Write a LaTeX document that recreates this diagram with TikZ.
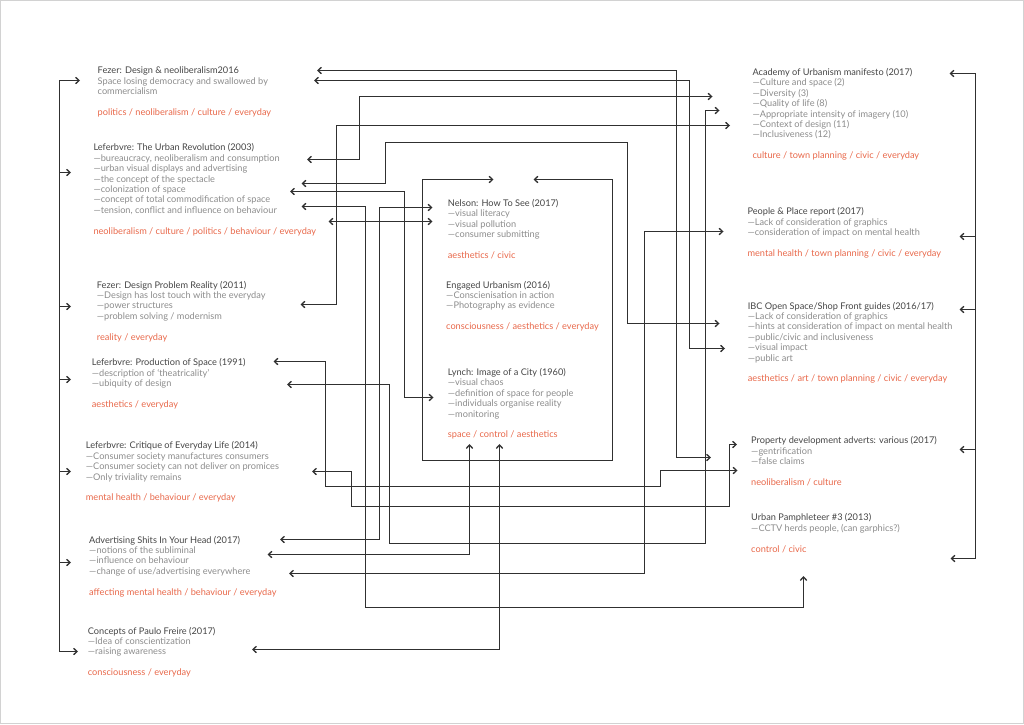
\documentclass[tikz,border=0pt]{standalone}
\usepackage{fontspec}
\setmainfont{Lato}[FakeStretch=1.0]
\usetikzlibrary{arrows.meta}
\definecolor{titc}{HTML}{454545}
\definecolor{bodyc}{HTML}{8C8C8C}
\definecolor{tagc}{HTML}{E8684A}
\definecolor{linec}{HTML}{303030}
\newcommand{\ttl}[1]{\strut\textcolor{titc}{#1}}
\newcommand{\bdy}[1]{\textcolor{bodyc}{#1}}
\newcommand{\tgs}[1]{\textcolor{tagc}{#1}}
\begin{document}
\begin{tikzpicture}[x=1pt,y=-1pt,
  item/.style={anchor=north west, inner sep=0pt, align=left, font=\fontsize{9.2pt}{10.4pt}\selectfont},
  conn/.style={draw=linec, line width=1.3pt, <->},
  brk/.style={draw=linec, line width=1.3pt},
  >={Straight Barb[length=3.5pt,width=6.5pt]}]
\useasboundingbox (0,0) rectangle (1024,724);
\draw[gray!35, line width=0.8pt] (0.5,0.5) rectangle (1023.5,723.5);

% left column
\node[item] (fezer1) at (97.5,66.4) {\ttl{Fezer: Design \& neoliberalism2016}\\
 \bdy{Space losing democracy and swallowed by}\\ \bdy{commercialism}\\[10.4pt]
 \tgs{politics / neoliberalism / culture / everyday}};
\node[item] (urbrev) at (93.3,143.4) {\ttl{Leferbvre: The Urban Revolution (2003)}\\
 \bdy{—bureaucracy, neoliberalism and consumption}\\
 \bdy{—urban visual displays and advertising}\\
 \bdy{—the concept of the spectacle}\\
 \bdy{—colonization of space}\\
 \bdy{—concept of total commodification of space}\\
 \bdy{—tension, conflict and influence on behaviour}\\[10.4pt]
 \tgs{neoliberalism / culture / politics / behaviour / everyday}};
\node[item] (fezer2) at (96.7,280.7) {\ttl{Fezer: Design Problem Reality (2011)}\\
 \bdy{—Design has lost touch with the everyday}\\
 \bdy{—power structures}\\
 \bdy{—problem solving / modernism}\\[10.4pt]
 \tgs{reality / everyday}};
\node[item] (prodsp) at (91.7,358.4) {\ttl{Leferbvre: Production of Space (1991)}\\
 \bdy{—description of ‘theatricality’}\\
 \bdy{—ubiquity of design}\\[10.4pt]
 \tgs{aesthetics / everyday}};
\node[item] (critique) at (85.7,441.4) {\ttl{Leferbvre: Critique of Everyday Life (2014)}\\
 \bdy{—Consumer society manufactures consumers}\\
 \bdy{—Consumer society can not deliver on promices}\\
 \bdy{—Only triviality remains}\\[10.4pt]
 \tgs{mental health / behaviour / everyday}};
\node[item] (adshits) at (89,535.7) {\ttl{Advertising Shits In Your Head (2017)}\\
 \bdy{—notions of the subliminal}\\
 \bdy{—influence on behaviour}\\
 \bdy{—change of use/advertising everywhere}\\[10.4pt]
 \tgs{affecting mental health / behaviour / everyday}};
\node[item] (freire) at (87.7,626.7) {\ttl{Concepts of Paulo Freire (2017)}\\
 \bdy{—Idea of conscientization}\\
 \bdy{—raising awareness}\\[10.4pt]
 \tgs{consciousness / everyday}};

% centre
\node[item] (nelson) at (447.7,199) {\ttl{Nelson: How To See (2017)}\\
 \bdy{—visual literacy}\\
 \bdy{—visual pollution}\\
 \bdy{—consumer submitting}\\[10.4pt]
 \tgs{aesthetics / civic}};
\node[item] (engaged) at (446,280.7) {\ttl{Engaged Urbanism (2016)}\\
 \bdy{—Conscienisation in action}\\
 \bdy{—Photography as evidence}\\[10.4pt]
 \tgs{consciousness / aesthetics / everyday}};
\node[item] (lynch) at (447.7,368) {\ttl{Lynch: Image of a City (1960)}\\
 \bdy{—visual chaos}\\
 \bdy{—definition of space for people}\\
 \bdy{—individuals organise reality}\\
 \bdy{—monitoring}\\[10.4pt]
 \tgs{space / control / aesthetics}};

% right column
\node[item] (academy) at (752.3,68) {\ttl{Academy of Urbanism manifesto (2017)}\\
 \bdy{—Culture and space (2)}\\
 \bdy{—Diversity (3)}\\
 \bdy{—Quality of life (8)}\\
 \bdy{—Appropriate intensity of imagery (10)}\\
 \bdy{—Context of design (11)}\\
 \bdy{—Inclusiveness (12)}\\[10.4pt]
 \tgs{culture / town planning / civic / everyday}};
\node[item] (people) at (747.3,207.4) {\ttl{People \& Place report (2017)}\\
 \bdy{—Lack of consideration of graphics}\\
 \bdy{—consideration of impact on mental health}\\[10.4pt]
 \tgs{mental health / town planning / civic / everyday}};
\node[item] (ibc) at (747.7,301.7) {\ttl{IBC Open Space/Shop Front guides (2016/17)}\\
 \bdy{—Lack of consideration of graphics}\\
 \bdy{—hints at consideration of impact on mental health}\\
 \bdy{—public/civic and inclusiveness}\\
 \bdy{—visual impact}\\
 \bdy{—public art}\\[10.4pt]
 \tgs{aesthetics / art / town planning / civic / everyday}};
\node[item] (property) at (751,436.4) {\ttl{Property development adverts: various (2017)}\\
 \bdy{—gentrification}\\
 \bdy{—false claims}\\[10.4pt]
 \tgs{neoliberalism / culture}};
\node[item] (pamph) at (751,513.4) {\ttl{Urban Pamphleteer \#3 (2013)}\\
 \bdy{—CCTV herds people, (can garphics?)}\\[10.4pt]
 \tgs{control / civic}};

% connector end points
\coordinate (fz1a) at (317,70.5);   \coordinate (fz1b) at (314,80.5);
\coordinate (ur1) at (307,159.5);   \coordinate (ur2) at (301.5,183.5);
\coordinate (ur3) at (290,191.5);   \coordinate (ur4) at (301.5,206.5);
\coordinate (ur5) at (328.5,221.5);
\coordinate (fz2) at (300.5,304.5);
\coordinate (ps1) at (273.5,361.5); \coordinate (ps2) at (287,384.5);
\coordinate (cr1) at (312,471.5);
\coordinate (ad1) at (280,539.5); \coordinate (ad2) at (267.5,554.5); \coordinate (ad3) at (289,573.5);
\coordinate (pf1) at (252,649.5);
\coordinate (ne1) at (432.5,207.5); \coordinate (ne2) at (432.5,221.5);
\coordinate (ly1) at (433.5,397.5); \coordinate (ly2) at (469.5,444); \coordinate (ly3) at (499.5,444);
\coordinate (lpa) at (493.5,179.5); \coordinate (lpb) at (533.5,179.5);
\coordinate (ac1) at (712.5,96.5); \coordinate (ac2) at (719.5,110.5); \coordinate (ac3) at (730,125.5);
\coordinate (pp1) at (723.5,231.5);
\coordinate (ib1) at (719.5,323.5); \coordinate (ib2) at (725,348.5);
\coordinate (pd1) at (737,444.5); \coordinate (pd2) at (711,457.5); \coordinate (pd3) at (737.5,470.5);
\coordinate (up1) at (803.5,576);

% connectors
\draw[conn] (fz1a) -- (676.5,70.5) -- (676.5,457.5) -- (pd2);
\draw[conn] (fz1b) -- (689.5,80.5) -- (689.5,348.5) -- (ib2);
\draw[conn] (ur1) -- (359.5,159.5) -- (359.5,96.5) -- (ac1);
\draw[conn] (ps2) -- (389.5,384.5) -- (389.5,543.5) -- (705.5,543.5) -- (705.5,110.5) -- (ac2);
\draw[conn] (fz2) -- (336.5,304.5) -- (336.5,125.5) -- (ac3);
\draw[conn] (ur2) -- (385.5,183.5) -- (385.5,142.5) -- (627.5,142.5) -- (627.5,323.5) -- (ib1);
\draw[conn] (ur3) -- (404.5,191.5) -- (404.5,397.5) -- (ly1);
\draw[conn] (ur4) -- (365.5,206.5) -- (365.5,607.5) -- (803.5,607.5) -- (up1);
\draw[conn] (ad1) -- (379.5,539.5) -- (379.5,207.5) -- (ne1);
\draw[conn] (ur5) -- (ne2);
\draw[conn] (ad3) -- (644.5,573.5) -- (644.5,231.5) -- (pp1);
\draw[conn] (ps1) -- (325.5,361.5) -- (325.5,486.5) -- (660.5,486.5) -- (660.5,470.5) -- (pd3);
\draw[conn] (cr1) -- (351.5,471.5) -- (351.5,506.5) -- (729.5,506.5) -- (729.5,444.5) -- (pd1);
\draw[conn] (ad2) -- (469.5,554.5) -- (ly2);
\draw[conn] (pf1) -- (499.5,649.5) -- (ly3);
\draw[conn] (lpa) -- (422.5,179.5) -- (422.5,460.5) -- (612.5,460.5) -- (612.5,179.5) -- (lpb);

% left bracket
\coordinate (lbt) at (80,80.5); \coordinate (lbb) at (78,651.5);
\draw[brk,<->] (lbt) -- (59.5,80.5) -- (59.5,651.5) -- (lbb);
\foreach \yy in {172.5,306.5,379.5,471.5,562.5}{\draw[brk,->] (59.5,\yy) -- (71,\yy);}
% right bracket
\coordinate (rbt) at (949.5,73.5); \coordinate (rbb) at (950.5,558.5);
\draw[brk,<->] (rbt) -- (975.5,73.5) -- (975.5,558.5) -- (rbb);
\foreach \yy in {236.5,309.5,449.5}{\draw[brk,->] (975.5,\yy) -- (959.5,\yy);}
\end{tikzpicture}
\end{document}
